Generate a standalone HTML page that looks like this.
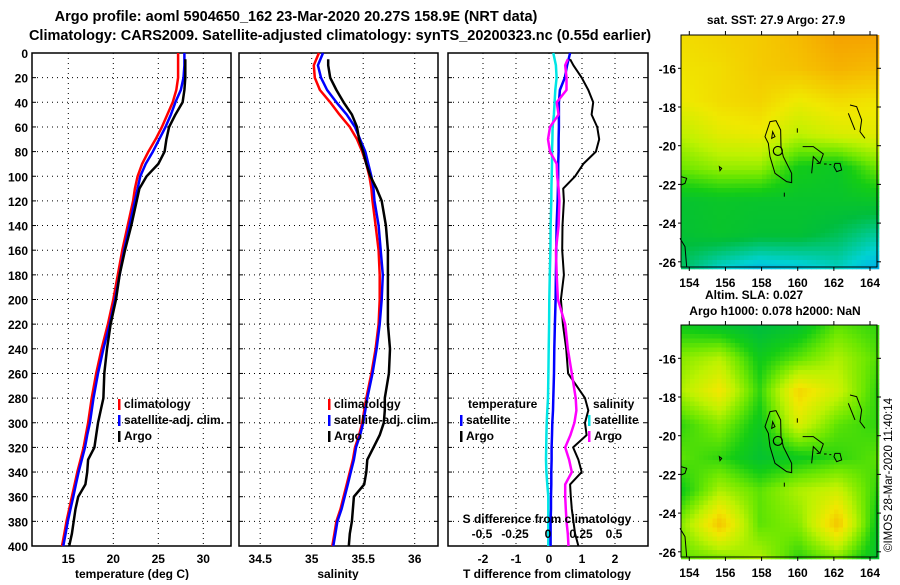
<!DOCTYPE html>
<html><head><meta charset="utf-8">
<style>
html,body{margin:0;padding:0;background:#fff;}
body{width:900px;height:580px;overflow:hidden;font-family:"Liberation Sans",Arial,sans-serif;}
svg text{font-family:"Liberation Sans",Arial,sans-serif;font-weight:bold;fill:#000;}
</style></head>
<body>
<svg id="chart" width="900" height="580" viewBox="0 0 900 580" xmlns="http://www.w3.org/2000/svg">
<text x="296" y="21" font-size="14.5" text-anchor="middle">Argo profile: aoml 5904650_162 23-Mar-2020 20.27S 158.9E (NRT data)</text>
<text x="340" y="40" font-size="14.5" text-anchor="middle">Climatology: CARS2009. Satellite-adjusted climatology: synTS_20200323.nc (0.55d earlier)</text>
<g id="p1"></g>
<g id="p2"></g>
<g id="p3"></g>
<g id="m1"></g>
<g id="m2"></g>
<text x="776" y="24" font-size="12" text-anchor="middle">sat. SST: 27.9 Argo: 27.9</text>
<text x="754" y="299" font-size="12" text-anchor="middle">Altim. SLA: 0.027</text>
<text x="775" y="315" font-size="12" text-anchor="middle">Argo h1000: 0.078 h2000: NaN</text>
<text transform="translate(892,552) rotate(-90)" font-size="11.5" style="font-weight:normal">©IMOS 28-Mar-2020 11:40:14</text>
</svg>
<script>
const depths=[0,10,20,30,40,50,60,70,80,90,100,110,120,140,160,180,200,220,240,260,280,290,300,310,320,330,340,350,360,370,380,390,400];
const depthTicks=[0,20,40,60,80,100,120,140,160,180,200,220,240,260,280,300,320,340,360,380,400];
const tempClim=[27.2,27.2,27.2,27.0,26.6,26.0,25.4,24.7,23.9,23.2,22.7,22.4,22.2,21.6,21.0,20.5,20.0,19.4,18.7,18.1,17.6,17.4,17.2,16.95,16.7,16.35,16.0,15.7,15.4,15.1,14.8,14.55,14.3];
const tempSat=[27.9,27.9,27.8,27.5,26.9,26.4,25.8,25.1,24.4,23.6,23.0,22.7,22.4,21.8,21.2,20.7,20.2,19.6,18.9,18.3,17.8,17.6,17.4,17.1,16.85,16.5,16.15,15.85,15.55,15.25,14.95,14.7,14.45];
const tempArgo=[28.0,28.0,28.0,27.9,27.7,26.9,26.2,25.9,25.7,25.0,23.7,22.9,22.6,22.0,21.3,20.7,20.3,19.7,19.3,19.0,18.9,18.6,18.3,18.1,17.9,17.2,17.1,16.9,16.1,15.8,15.6,15.4,15.1];
const salClim=[35.07,35.02,35.03,35.08,35.18,35.27,35.37,35.44,35.49,35.53,35.56,35.58,35.59,35.62,35.65,35.66,35.66,35.65,35.62,35.58,35.53,35.51,35.49,35.46,35.42,35.40,35.37,35.34,35.31,35.28,35.24,35.22,35.20];
const salSat=[35.11,35.06,35.09,35.15,35.24,35.34,35.42,35.47,35.52,35.55,35.58,35.60,35.61,35.65,35.67,35.69,35.68,35.66,35.63,35.59,35.54,35.52,35.50,35.47,35.43,35.41,35.38,35.35,35.32,35.29,35.25,35.23,35.21];
const salArgo=[35.16,35.16,35.18,35.24,35.31,35.39,35.44,35.46,35.50,35.53,35.57,35.63,35.68,35.72,35.74,35.74,35.74,35.74,35.76,35.75,35.71,35.71,35.70,35.66,35.60,35.54,35.53,35.51,35.41,35.40,35.39,35.37,35.36];
const tDiffSat=[0.64,0.55,0.48,0.33,0.30,0.30,0.30,0.29,0.29,0.28,0.28,0.27,0.26,0.23,0.22,0.21,0.20,0.18,0.16,0.15,0.13,0.12,0.10,0.09,0.08,0.08,0.07,0.07,0.06,0.06,0.05,0.05,0.05];
const tDiffArgo=[0.64,0.74,0.99,1.19,1.34,1.29,1.46,1.52,1.42,1.04,0.79,0.43,0.45,0.41,0.40,0.45,0.36,0.42,0.52,0.58,1.09,1.19,1.09,1.14,0.73,0.89,0.99,0.64,0.66,0.69,0.74,0.79,0.89];
const sDiffSat=[0.04,0.06,0.065,0.055,0.05,0.045,0.035,0.033,0.03,0.03,0.028,0.026,0.025,0.02,0.018,0.014,0.01,0.008,0.005,0.003,0,-0.005,-0.01,-0.012,-0.014,-0.015,-0.012,-0.005,0.002,0.002,0.002,0.002,0.002];
const sDiffArgo=[0.15,0.13,0.14,0.14,0.066,0.08,0.015,0.0,0.015,0.066,0.07,0.08,0.086,0.08,0.06,0.066,0.075,0.13,0.15,0.18,0.21,0.215,0.2,0.17,0.13,0.16,0.18,0.13,0.13,0.135,0.14,0.15,0.155];
const tempTicks=[15,20,25,30];
const salTicks=[34.5,35,35.5,36];
const tDiffTicks=[-2,-1,0,1,2];
const sDiffTicks=[-0.5,-0.25,0,0.25,0.5];
const lonTicks=[154,156,158,160,162,164];
const latTicks=[-16,-18,-20,-22,-24,-26];
const sstGrid=[
[0.68,0.70,0.72,0.76,0.82,0.82],
[0.66,0.68,0.72,0.74,0.78,0.76],
[0.64,0.68,0.70,0.64,0.68,0.66],
[0.55,0.62,0.64,0.55,0.60,0.62],
[0.45,0.50,0.50,0.34,0.31,0.45],
[0.28,0.30,0.29,0.29,0.29,0.30],
[0.27,0.29,0.27,0.27,0.23,0.17],
[0.22,0.13,0.08,0.10,0.14,0.06]];
const slaGrid=[
[0.33,0.28,0.24,0.28,0.43,0.38],
[0.48,0.54,0.33,0.43,0.53,0.42],
[0.53,0.66,0.38,0.70,0.58,0.38],
[0.38,0.48,0.32,0.60,0.43,0.38],
[0.43,0.38,0.28,0.33,0.38,0.43],
[0.33,0.53,0.43,0.53,0.58,0.38],
[0.48,0.74,0.43,0.48,0.74,0.32],
[0.43,0.48,0.53,0.38,0.48,0.28]];

const NS='http://www.w3.org/2000/svg';
function mk(parent,tag,attrs){const e=document.createElementNS(NS,tag);for(const k in attrs)e.setAttribute(k,attrs[k]);parent.appendChild(e);return e;}
const top0=53,bot0=546;
const yD=d=>top0+(d/400)*(bot0-top0);

function panel(g,L,R,xs,ticks,fmtTicks,showDepth){
  for(const t of ticks){const x=xs(t);
    const gl=mk(g,'line',{x1:x,x2:x,y1:top0,y2:bot0,stroke:'#000','stroke-width':1,'stroke-dasharray':'1,4'});
    
    const tl=mk(g,'text',{x:x,y:563,'font-size':12,'text-anchor':'middle'});tl.textContent=fmtTicks(t);
    }
  for(const d of depthTicks){const y=yD(d);
    if(d>0&&d<400){const gl=mk(g,'line',{x1:L,x2:R,y1:y,y2:y,stroke:'#000','stroke-width':1,'stroke-dasharray':'1,4'});
      }
    mk(g,'line',{x1:L,x2:L+4,y1:y,y2:y,stroke:'#000'});mk(g,'line',{x1:R-4,x2:R,y1:y,y2:y,stroke:'#000'});
    if(showDepth){const tl=mk(g,'text',{x:28,y:y+5,'font-size':12,'text-anchor':'end'});tl.textContent=d;
      }}
  const fr=mk(g,'rect',{x:L,y:top0,width:R-L,height:bot0-top0,fill:'none',stroke:'#000','stroke-width':1.5});
  
}
function series(g,vals,xs,color,w,name){
  let p='';for(let i=0;i<vals.length;i++){const d=(i===0&&name.indexOf('argo')>=0)?5:depths[i];p+=(p?'L':'M')+xs(vals[i]).toFixed(1)+','+yD(d).toFixed(1);}
  const e=mk(g,'path',{d:p,fill:'none',stroke:color,'stroke-width':w,'stroke-linejoin':'round'});
  
}
function legend(g,x,y,items){items.forEach((it,i)=>{
  const m=mk(g,'rect',{x:x,y:y+i*16-9,width:2.5,height:11,fill:it[1]});
  
  const t=mk(g,'text',{x:x+6,y:y+i*16,'font-size':12});t.textContent=it[0];
  });}

const p1=document.getElementById('p1');
const xT=t=>68.3+(t-15)*9;
panel(p1,32,231,xT,tempTicks,t=>t,true);
series(p1,tempClim,xT,'#f00',2.5,'line-temp-climatology');
series(p1,tempSat,xT,'#00f',2.5,'line-temp-satellite');
series(p1,tempArgo,xT,'#000',2.5,'line-temp-argo');
legend(p1,118,408,[['climatology','#f00'],['satellite-adj. clim.','#00f'],['Argo','#000']]);
{const t=mk(p1,'text',{x:132,y:578,'font-size':12,'text-anchor':'middle'});t.textContent='temperature (deg C)';}

const p2=document.getElementById('p2');
const xS=s=>311.7+(s-35)*103;
panel(p2,239,438,xS,salTicks,t=>t,false);
series(p2,salClim,xS,'#f00',2.5,'line-sal-climatology');
series(p2,salSat,xS,'#00f',2.5,'line-sal-satellite');
series(p2,salArgo,xS,'#000',2.5,'line-sal-argo');
legend(p2,328,408,[['climatology','#f00'],['satellite-adj. clim.','#00f'],['Argo','#000']]);
{const t=mk(p2,'text',{x:338,y:578,'font-size':12,'text-anchor':'middle'});t.textContent='salinity';}

const p3=document.getElementById('p3');
const xTD=v=>549+v*33;
const xSD=v=>548+v*132;
panel(p3,448,648,xTD,tDiffTicks,t=>t,false);
series(p3,sDiffSat,xSD,'#00e5e5',2.5,'line-sdiff-satellite');
series(p3,tDiffSat,xTD,'#00f',2.5,'line-tdiff-satellite');
series(p3,tDiffArgo,xTD,'#000',2,'line-tdiff-argo');
series(p3,sDiffArgo,xSD,'#f0f',2.5,'line-sdiff-argo');
{const t=mk(p3,'text',{x:468,y:408,'font-size':12});t.textContent='temperature';}
legend(p3,460,424,[['satellite','#00f'],['Argo','#000']]);
{const t=mk(p3,'text',{x:593,y:408,'font-size':12});t.textContent='salinity';}
legend(p3,588,424,[['satellite','#00e5e5'],['Argo','#f0f']]);
{const t=mk(p3,'text',{x:547,y:523,'font-size':12,'text-anchor':'middle'});t.textContent='S difference from climatology';}
for(const s of sDiffTicks){const t=mk(p3,'text',{x:xSD(s),y:538,'font-size':12,'text-anchor':'middle'});t.textContent=s;
  }
{const t=mk(p3,'text',{x:547,y:578,'font-size':12,'text-anchor':'middle'});t.textContent='T difference from climatology';}

const cstops=[[0,[0,150,255]],[0.12,[0,210,210]],[0.25,[0,190,60]],[0.35,[20,205,20]],[0.45,[110,232,0]],[0.55,[190,242,0]],[0.65,[240,232,0]],[0.75,[245,190,0]],[0.85,[245,150,0]]];
function cmap(v){for(let i=1;i<cstops.length;i++){if(v<=cstops[i][0]||i===cstops.length-1){const a=cstops[i-1],b=cstops[i];let f=(v-a[0])/(b[0]-a[0]);f=Math.max(0,Math.min(1,f));
  return 'rgb('+a[1].map((c,k)=>Math.round(c+(b[1][k]-c)*f)).join(',')+')';}}}
function sample(grid,u,v){const R=grid.length-1,C=grid[0].length-1;const y=v*R,x=u*C;const i=Math.min(R-1,Math.floor(y)),j=Math.min(C-1,Math.floor(x));const fy=y-i,fx=x-j;
  return grid[i][j]*(1-fx)*(1-fy)+grid[i][j+1]*fx*(1-fy)+grid[i+1][j]*(1-fx)*fy+grid[i+1][j+1]*fx*fy;}
const contourPaths=['M300,365 L318,362 L332,390 L333,440 L340,470 L365,520 L365,548 L350,545 L315,520 L300,470 L295,430 L285,410 Z',
'M540,315 L560,320 L575,360 L570,395 L585,415 M535,340 L555,390',
'M398,440 L430,440 L460,462 L450,490 L430,470 L425,520',
'M495,490 L510,490 L515,510 L500,515 L492,500 Z',
'M33,530 L50,535 L45,550 L33,555','M30,715 L45,740 L50,800','M148,500 L155,505 L150,512 Z','M382,385 L382,398','M343,578 L343,590',
'M308,395 L315,410 L305,415 Z','M440,490 L448,490 M462,492 L470,492 M478,494 L484,494'];
function map(g,y0,grid){
  const L=681,R=877,T=y0,B=y0+232;
  const cell=4.5;
  for(let y=T;y<B;y+=cell){for(let x=L;x<R;x+=cell){
    const v=sample(grid,(x+cell/2-L)/(R-L),(y+cell/2-T)/(B-T));
    mk(g,'rect',{x:x.toFixed(1),y:y.toFixed(1),width:cell+0.3,height:cell+0.3,fill:cmap(v)});}}
  const cg=mk(g,'g',{transform:'translate(670,'+(y0-35)+') scale(0.3333)',fill:'none',stroke:'#000','stroke-width':3});
  
  for(const d of contourPaths)mk(cg,'path',{d:d});
  const lonX=l=>689.3+(l-154)*18.07, latY=la=>y0+33.3+(-16-la)*19.35;
  const c=mk(g,'circle',{cx:lonX(158.9),cy:latY(-20.27),r:4.5,fill:'none',stroke:'#000','stroke-width':1.2});
  
  const fr=mk(g,'rect',{x:L,y:T,width:R-L,height:B-T,fill:'none',stroke:'#000','stroke-width':1});
  
  for(const l of lonTicks){const x=lonX(l);mk(g,'line',{x1:x,x2:x,y1:T-4,y2:T,stroke:'#000'});mk(g,'line',{x1:x,x2:x,y1:B,y2:B+4,stroke:'#000'});
    const t=mk(g,'text',{x:x,y:B+20,'font-size':12,'text-anchor':'middle'});t.textContent=l;}
  for(const la of latTicks){const y=latY(la);mk(g,'line',{x1:R,x2:R+4,y1:y,y2:y,stroke:'#000'});mk(g,'line',{x1:L-3,x2:L,y1:y,y2:y,stroke:'#000'});
    const t=mk(g,'text',{x:L-5,y:y+5,'font-size':12,'text-anchor':'end'});t.textContent=la;}
}
map(document.getElementById('m1'),35,sstGrid);
map(document.getElementById('m2'),325,slaGrid);
</script>
</body></html>
